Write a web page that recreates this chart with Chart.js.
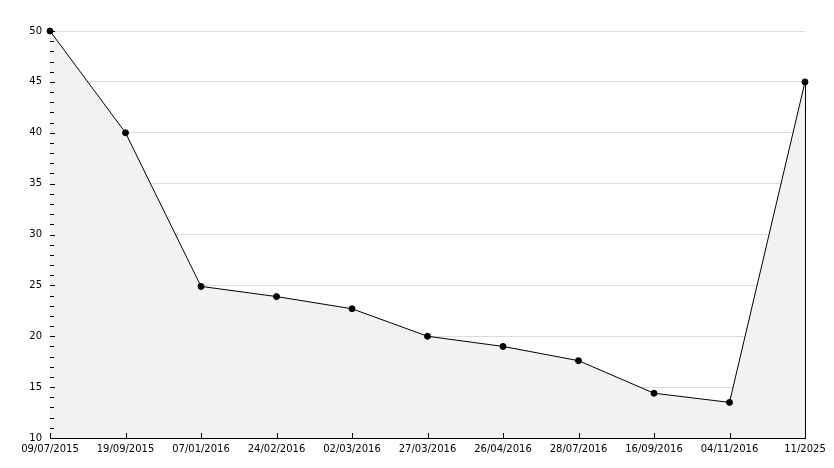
<!DOCTYPE html>
<html>
<head>
<meta charset="utf-8">
<script src="https://cdn.jsdelivr.net/npm/chart.js@4"></script>
<style>
  html, body { margin: 0; padding: 0; background: #fff; }
  #wrap { width: 834px; height: 468px; }
</style>
</head>
<body>
<div id="wrap"><canvas id="chart"></canvas></div>
<script>
const labels = ["09/07/2015", "19/09/2015", "07/01/2016", "24/02/2016", "02/03/2016",
  "27/03/2016", "26/04/2016", "28/07/2016", "16/09/2016", "04/11/2016", "11/2025"];
const values = [50, 40, 24.9, 23.9, 22.7, 20, 19, 17.6, 14.4, 13.5, 45];
const yMin = 10;
const yMax = 50;

// inward tick marks + closing edge of the filled area
const innerTicks = {
  id: "innerTicks",
  afterDatasetsDraw(chart) {
    const { ctx, chartArea, scales } = chart;
    const x = scales.x, y = scales.y;
    ctx.save();
    ctx.strokeStyle = "#000";
    ctx.lineWidth = 1;
    ctx.beginPath();
    for (let v = yMin; v <= yMax; v++) {
      const py = Math.round(y.getPixelForValue(v)) + 0.5;
      const len = v % 5 === 0 ? 5 : 4;
      ctx.moveTo(chartArea.left, py);
      ctx.lineTo(chartArea.left + len, py);
    }
    labels.forEach((l, i) => {
      const px = Math.round(x.getPixelForValue(i)) + 0.5;
      ctx.moveTo(px, chartArea.bottom);
      ctx.lineTo(px, chartArea.bottom - 5);
    });
    const last = values.length - 1;
    const ex = Math.round(x.getPixelForValue(last)) + 0.5;
    ctx.moveTo(ex, y.getPixelForValue(values[last]));
    ctx.lineTo(ex, chartArea.bottom);
    ctx.stroke();
    ctx.restore();
  }
};

new Chart(document.getElementById("chart"), {
  type: "line",
  data: {
    labels: labels,
    datasets: [{
      data: values,
      borderColor: "#000",
      borderWidth: 1,
      backgroundColor: "#f2f2f2",
      fill: "start",
      tension: 0,
      clip: false,
      pointRadius: 3,
      pointBackgroundColor: "#000",
      pointBorderColor: "#000",
      pointBorderWidth: 1
    }]
  },
  options: {
    responsive: true,
    maintainAspectRatio: false,
    animation: false,
    devicePixelRatio: 1,
    layout: { padding: { top: 31, right: 29, left: 0, bottom: 0 } },
    plugins: { legend: { display: false }, tooltip: { enabled: false } },
    scales: {
      x: {
        offset: false,
        grid: { display: false, drawTicks: false },
        border: { display: true, color: "#000", width: 1 },
        ticks: {
          color: "#000",
          font: { family: "DejaVu Sans", size: 10 },
          maxRotation: 0,
          autoSkip: false,
          padding: 5
        },
        afterFit(scale) { scale.height = 30; }
      },
      y: {
        min: yMin,
        max: yMax,
        grid: {
          drawTicks: false,
          color: ctx => (ctx.tick && ctx.tick.value % 5 === 0 ? "#dcdcdc" : "rgba(0,0,0,0)")
        },
        border: { display: true, color: "#000", width: 1 },
        ticks: {
          stepSize: 1,
          autoSkip: false,
          color: "#000",
          font: { family: "DejaVu Sans", size: 10 },
          padding: 8,
          callback: v => (v % 5 === 0 ? v : "")
        },
        afterFit(scale) { scale.width = 50; }
      }
    }
  },
  plugins: [innerTicks]
});
</script>
</body>
</html>
